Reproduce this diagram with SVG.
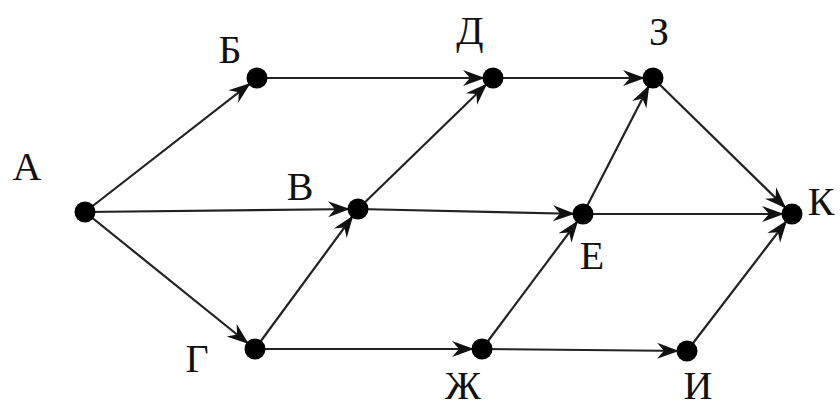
<svg xmlns="http://www.w3.org/2000/svg" width="840" height="408" viewBox="0 0 840 408">
<style>
.e{stroke:#222;stroke-width:2.2;fill:none;marker-end:url(#ah)}
.d{fill:#000}
.t{font-family:"Liberation Serif","Times New Roman",serif;font-size:40px;fill:#111;text-anchor:middle}
</style>
<defs>
<marker id="ah" markerUnits="userSpaceOnUse" markerWidth="40" markerHeight="40" viewBox="-30 -15 40 30" refX="8" refY="0" orient="auto" overflow="visible">
<path d="M0,0 L-22,-8 L-15,0 L-22,8 Z" fill="#111"/>
</marker>
</defs>
<rect width="840" height="408" fill="#fff"/>
<g id="connectors">
<line class="e" x1="85" y1="212" x2="257" y2="78"/>
<line class="e" x1="85" y1="212" x2="358" y2="209"/>
<line class="e" x1="85" y1="212" x2="255" y2="349"/>
<line class="e" x1="257" y1="78" x2="493" y2="78"/>
<line class="e" x1="358" y1="209" x2="493" y2="78"/>
<line class="e" x1="358" y1="209" x2="583" y2="214"/>
<line class="e" x1="255" y1="349" x2="358" y2="209"/>
<line class="e" x1="255" y1="349" x2="482" y2="349"/>
<line class="e" x1="493" y1="78" x2="653" y2="78"/>
<line class="e" x1="583" y1="214" x2="653" y2="78"/>
<line class="e" x1="583" y1="214" x2="792" y2="214"/>
<line class="e" x1="482" y1="349" x2="583" y2="214"/>
<line class="e" x1="482" y1="349" x2="687" y2="351"/>
<line class="e" x1="653" y1="78" x2="792" y2="214"/>
<line class="e" x1="687" y1="351" x2="792" y2="214"/>
</g>
<g id="node-A"><circle class="d" cx="85" cy="212" r="10.5"/><text class="t" x="27" y="180">А</text></g>
<g id="node-B"><circle class="d" cx="257" cy="78" r="10.5"/><text class="t" x="230" y="63">Б</text></g>
<g id="node-V"><circle class="d" cx="358" cy="209" r="10.5"/><text class="t" x="300" y="200">В</text></g>
<g id="node-G"><circle class="d" cx="255" cy="349" r="10.5"/><text class="t" x="197" y="372">Г</text></g>
<g id="node-D"><circle class="d" cx="493" cy="78" r="10.5"/><text class="t" x="470" y="44">Д</text></g>
<g id="node-E"><circle class="d" cx="583" cy="214" r="10.5"/><text class="t" x="592" y="269">Е</text></g>
<g id="node-Zh"><circle class="d" cx="482" cy="349" r="10.5"/><text class="t" x="463" y="399">Ж</text></g>
<g id="node-Z"><circle class="d" cx="653" cy="78" r="10.5"/><text class="t" x="659" y="45">З</text></g>
<g id="node-I"><circle class="d" cx="687" cy="351" r="10.5"/><text class="t" x="698" y="399">И</text></g>
<g id="node-K"><circle class="d" cx="792" cy="214" r="10.5"/><text class="t" x="821" y="215" text-anchor="start">К</text></g>
</svg>
